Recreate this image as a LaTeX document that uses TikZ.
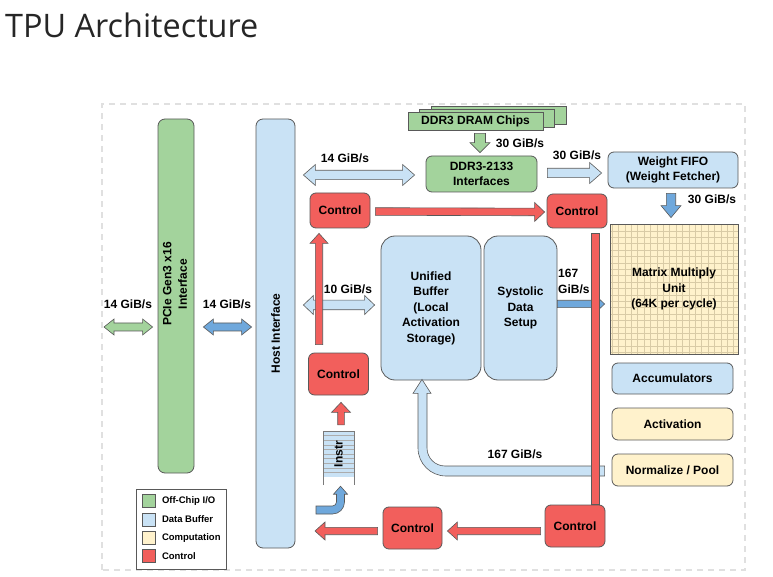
\documentclass[tikz,border=0pt]{standalone}
\usepackage{fontspec}
\setmainfont{Liberation Sans}
\newfontfamily\titlefont{Open Sans}
\usetikzlibrary{calc}
\definecolor{offchip}{HTML}{A3D39C}
\definecolor{bufblue}{HTML}{C9E2F5}
\definecolor{compyel}{HTML}{FFF2CC}
\definecolor{ctlred}{HTML}{F25F5C}
\definecolor{solblue}{HTML}{6FA8DC}
\definecolor{edge}{HTML}{595959}
\definecolor{gridtan}{HTML}{D9CBA6}
\newcommand{\lbl}{\bfseries\fontsize{12}{15.5}\selectfont}
\newcommand{\fatarrow}[6]{%
  \path #2 coordinate (fa-a) #3 coordinate (fa-b);
  \path ($(fa-b)!#6!(fa-a)$) coordinate (fa-h);
  \filldraw[#1] ($(fa-a)!#4!90:(fa-b)$) -- ($(fa-h)!#4!90:(fa-b)$) -- ($(fa-h)!#5!90:(fa-b)$) -- (fa-b) -- ($(fa-h)!#5!-90:(fa-b)$) -- ($(fa-h)!#4!-90:(fa-b)$) -- ($(fa-a)!#4!-90:(fa-b)$) -- cycle;}
\newcommand{\fatdarrow}[6]{%
  \path #2 coordinate (fa-a) #3 coordinate (fa-b);
  \path ($(fa-a)!#6!(fa-b)$) coordinate (fa-g) ($(fa-b)!#6!(fa-a)$) coordinate (fa-h);
  \filldraw[#1] (fa-a) -- ($(fa-g)!#5!90:(fa-b)$) -- ($(fa-g)!#4!90:(fa-b)$) -- ($(fa-h)!#4!90:(fa-b)$) -- ($(fa-h)!#5!90:(fa-b)$) -- (fa-b) -- ($(fa-h)!#5!-90:(fa-b)$) -- ($(fa-h)!#4!-90:(fa-b)$) -- ($(fa-g)!#4!-90:(fa-b)$) -- ($(fa-g)!#5!-90:(fa-b)$) -- cycle;}

\begin{document}
\begin{tikzpicture}[x=1pt,y=1pt,
	blk/.style={draw=edge, line width=0.8pt, rounded corners=6pt, align=center, font=\lbl, inner sep=0pt},
	offbox/.style={blk, fill=offchip},
	bufbox/.style={blk, fill=bufblue},
	compbox/.style={blk, fill=compyel},
	ctlbox/.style={blk, fill=ctlred, minimum width=60pt},
	redarrow/.style={fill=ctlred, draw=edge, line width=0.6pt},
	ltarrow/.style={fill=bufblue, draw=edge, line width=0.6pt},
	dkarrow/.style={fill=solblue, draw=edge, line width=0.6pt},
	grarrow/.style={fill=offchip, draw=edge, line width=0.6pt},
	bw/.style={font=\lbl},
	leg/.style={font=\bfseries\fontsize{9.5}{11}\selectfont, anchor=west, inner sep=0pt}]
	\useasboundingbox (0,0) rectangle (773,576);
	\node[anchor=base west, font=\titlefont\fontsize{32.4}{33}\selectfont, text=black!85, inner sep=0pt] (title) at (5,538) {TPU Architecture};
	\draw[black!12, line width=1.2pt, dash pattern=on 6pt off 5pt] (102,6) rectangle (745,472);

	\node[offbox, rounded corners=7pt, minimum width=36pt, minimum height=354pt] (pcie) at (176,280) {\rotatebox{90}{\hspace{24pt}\begin{tabular}{@{}c@{}}PCIe Gen3 x16\\Interface\end{tabular}}};
	\node[bufbox, rounded corners=7pt, minimum width=39pt, minimum height=429pt] (host) at (275.5,242.5) {\rotatebox{90}{Host Interface}};
	\foreach \s in {2,1}
		\filldraw[fill=offchip, draw=edge, line width=0.6pt] ($(408,446)+\s*(11.5,3)$) rectangle ++(135,18);
	\node[offbox, rounded corners=0pt, minimum width=135pt, minimum height=18pt] (dram) at (475.5,455) {DDR3 DRAM Chips};
	\node[offbox, minimum width=111pt, minimum height=36pt] (ddr) at (481.5,402) {DDR3-2133\\Interfaces};
	\node[bufbox, minimum width=130pt, minimum height=36pt] (wfifo) at (673,406) {Weight FIFO\\(Weight Fetcher)};
	\node[compbox, rounded corners=0pt, minimum width=128pt, minimum height=130pt,
		path picture={\draw[gridtan, line width=0.5pt, step=6.4pt] (path picture bounding box.south west) grid (path picture bounding box.north east);}] (mmu) at (674,287) {Matrix Multiply\\Unit\\(64K per cycle)};
	\node[ctlbox, minimum height=34pt] (ctlTR) at (577,365) {Control};
	\node[ctlbox, minimum height=35pt] (ctlTL) at (340,365.5) {Control};
	\node[bufbox, rounded corners=14pt, minimum width=100pt, minimum height=144pt] (ub) at (431,268) {Unified\\Buffer\\(Local\\Activation\\Storage)};
	\node[bufbox, rounded corners=14pt, minimum width=73pt, minimum height=144pt] (sds) at (520.5,268) {Systolic\\Data\\Setup};
	\node[bufbox, minimum width=121pt, minimum height=31pt] (acc) at (672.5,197.5) {Accumulators};
	\node[compbox, minimum width=121pt, minimum height=32pt] (act) at (672.5,152) {Activation};
	\node[compbox, minimum width=121pt, minimum height=32pt] (norm) at (672.5,106) {Normalize / Pool};
	\node[ctlbox, minimum height=42pt] (ctlML) at (338.5,202) {Control};
	\node[fill=bufblue, minimum width=31pt, minimum height=46pt, inner sep=0pt, font=\lbl,
		path picture={\foreach \k in {1,...,9} \draw[edge!50, line width=0.5pt] ([yshift=-\k*4.6pt]path picture bounding box.north west) -- ([yshift=-\k*4.6pt]path picture bounding box.north east);}] (instr) at (338.5,122) {\rotatebox{90}{Instr}};
	\draw[edge!80, line width=0.6pt] ($(instr.south west)+(0,-8)$) -- (instr.north west) -- (instr.north east) -- ($(instr.south east)+(0,-8)$);
	\node[ctlbox, minimum height=42pt] (ctlBR) at (575,50) {Control};
	\node[ctlbox, minimum width=59pt, minimum height=42pt] (ctlBM) at (412.5,48) {Control};

	\node[bw] (bwExt) at (128,272) {14 GiB/s};
	\node[bw] (bwPcie) at (227,272) {14 GiB/s};
	\node[bw] (bwHost) at (345,418) {14 GiB/s};
	\node[bw] (bwDram) at (520,433) {30 GiB/s};
	\node[bw] (bwDdr) at (577,421) {30 GiB/s};
	\node[bw] (bwFifo) at (712,377) {30 GiB/s};
	\node[bw] (bwUb) at (348,287) {10 GiB/s};
	\node[bw, align=left, anchor=north west, inner sep=0pt] (bwSds) at (558,307) {167\\GiB/s};
	\node[bw] (bwRet) at (515,122) {167 GiB/s};

	\coordinate (ext) at (104,249);
	\fatdarrow{grarrow}{(ext)}{($(pcie.west |- ext)+(-5,0)$)}{4pt}{8pt}{10pt}
	\fatdarrow{dkarrow}{($(pcie.east |- ext)+(9,0)$)}{($(host.west |- ext)+(-4,0)$)}{4pt}{8pt}{10pt}
	\fatdarrow{ltarrow}{($(host.east |- ddr.west)+(8,-1)$)}{($(ddr.west)+(-11,-1)$)}{4.7pt}{10.5pt}{12pt}
	\fatarrow{grarrow}{($(dram.south -| ddr.north)+(-1.5,-3)$)}{($(ddr.north)+(-1.5,3)$)}{5.5pt}{10pt}{10pt}
	\fatarrow{ltarrow}{($(ddr.east)+(10,1)$)}{($(wfifo.west)+(-6,-3)$)}{4.7pt}{10.5pt}{12pt}
	\fatarrow{dkarrow}{($(wfifo.south)+(-2,-5)$)}{($(wfifo.south |- mmu.north)+(-2,6)$)}{4.7pt}{10pt}{12pt}
	\fatarrow{redarrow}{($(ctlTL.east)+(5,-1)$)}{($(ctlTR.west)+(-2,-1)$)}{3.8pt}{9.5pt}{10pt}
	\fatdarrow{ltarrow}{($(host.east |- ub.west)+(8,3)$)}{($(ub.west)+(-6,3)$)}{4.8pt}{9.5pt}{10pt}
	\fatarrow{redarrow}{($(ctlML.north)+(-19.5,8)$)}{($(ctlTL.south)+(-21,-5)$)}{3.7pt}{9pt}{10pt}
	\fatarrow{dkarrow}{($(sds.east)+(0,4)$)}{($(mmu.west |- sds.east)+(-5,4)$)}{3.7pt}{7.5pt}{8pt}
	\coordinate (rt) at ($(ub.south)+(-9,1)$);
	\coordinate (rs) at ($(norm.west)+(-7,-1)$);
	\filldraw[ltarrow] (rt) -- ++(9,-14) -- ++(-4,0) -- ($(rt |- rs)+(5,23)$) arc[start angle=180, end angle=270, radius=18] -- ($(rs)+(0,5)$) -- ($(rs)+(0,-5)$) -- ($(rt |- rs)+(24,-5)$) arc[start angle=270, end angle=180, radius=28] -- ($(rt)+(-4,-14)$) -- ++(-5,0) -- cycle;
	\filldraw[redarrow] ($(ctlTR.south)+(14,-5)$) rectangle ($(ctlBR.north)+(24,0)$);
	\fatarrow{redarrow}{($(instr.north)+(2.5,6)$)}{($(ctlML.south)+(2.5,-7)$)}{3.3pt}{9.5pt}{10pt}
	\coordinate (it) at ($(instr.south)+(2,-9)$);
	\coordinate (itail) at (316,66);
	\filldraw[dkarrow] (it) -- ++(7,-8) -- ++(-3,0) -- ($(it |- itail)+(4,8)$) arc[start angle=0, end angle=-90, radius=12] -- ($(itail)+(0,-4)$) -- ($(itail)+(0,4)$) -- ($(it |- itail)+(-8,4)$) arc[start angle=-90, end angle=0, radius=4] -- ($(it)+(-4,-8)$) -- ++(-3,0) -- cycle;
	\fatarrow{redarrow}{($(ctlBR.west)+(-4,-5)$)}{($(ctlBM.east)+(5,-3)$)}{3.7pt}{9pt}{10pt}
	\coordinate (ctlout) at (315,45);
	\fatarrow{redarrow}{($(ctlBM.west)+(-5,-3)$)}{(ctlout)}{3.7pt}{9pt}{10pt}

	\node[draw=edge, line width=0.8pt, minimum width=90pt, minimum height=80pt, inner sep=0pt] (legend) at (181,47) {};
	\foreach \c/\t [count=\i] in {offchip/{Off-Chip I/O}, bufblue/{Data Buffer}, compyel/{Computation}, ctlred/{Control}} {
		\node[draw=edge, line width=0.6pt, fill=\c, minimum size=13pt, inner sep=0pt] (sw\i) at (149,75-\i*18.3+18.3) {};
		\node[leg] (lt\i) at ($(sw\i.east)+(6,0)$) {\t};
	}
\end{tikzpicture}
\end{document}
